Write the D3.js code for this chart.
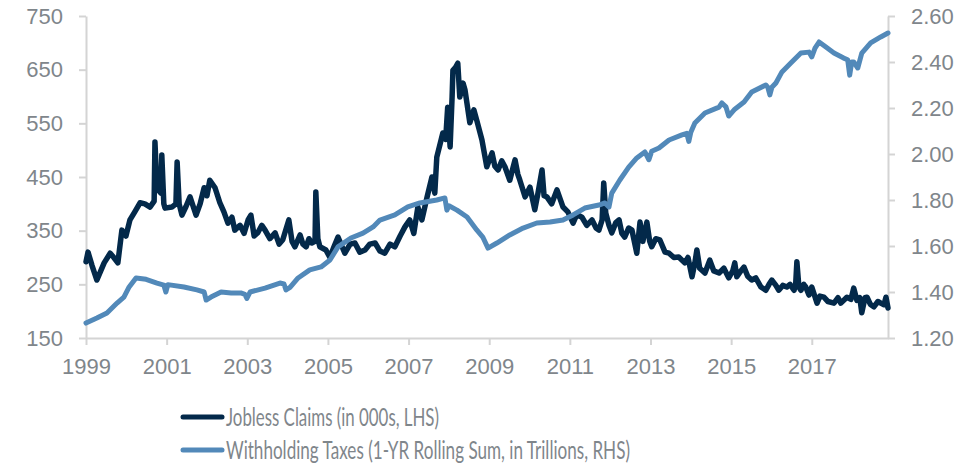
<!DOCTYPE html>
<html>
<head>
<meta charset="utf-8">
<script src="https://cdn.jsdelivr.net/npm/d3@7"></script>
<style>
  body { margin: 0; background: #fff; }
  svg { display: block; font-family: "Source Sans Pro", Lato, "Open Sans", sans-serif; }
  .axis path, .axis line { stroke: #d4d4d4; stroke-width: 2; }
  .axis text { fill: #7f868b; font-size: 22px; }
  .legend text { fill: #7f868b; font-size: 25px; }
</style>
</head>
<body>
<svg id="chart" width="974" height="463"></svg>
<script>
// jobless claims, thousands (decimal year, value)
var claimDates = [1999.00,1999.05,1999.15,1999.27,1999.45,1999.60,1999.69,1999.79,1999.89,1999.99,
  2000.09,2000.21,2000.34,2000.46,2000.59,2000.69,2000.71,2000.76,2000.79,2000.86,2000.88,2000.93,2000.96,
  2001.13,2001.23,2001.26,2001.31,2001.38,2001.48,2001.58,2001.73,2001.83,2001.93,2002.00,2002.07,2002.20,
  2002.32,2002.42,2002.52,2002.62,2002.69,2002.82,2002.92,2003.02,2003.09,2003.17,2003.26,2003.36,2003.44,
  2003.56,2003.69,2003.79,2003.88,2004.03,2004.11,2004.18,2004.31,2004.38,2004.46,2004.53,2004.60,2004.68,
  2004.70,2004.75,2004.80,2004.95,2005.05,2005.15,2005.25,2005.42,2005.55,2005.67,2005.79,2005.92,2006.04,
  2006.17,2006.29,2006.41,2006.54,2006.66,2006.79,2006.91,2007.03,2007.13,2007.23,2007.33,2007.46,2007.58,
  2007.65,2007.70,2007.85,2007.92,2007.97,2008.03,2008.08,2008.10,2008.17,2008.22,2008.27,2008.35,2008.40,
  2008.52,2008.62,2008.69,2008.82,2008.94,2009.07,2009.14,2009.22,2009.31,2009.39,2009.51,2009.64,2009.71,
  2009.76,2009.89,2010.01,2010.13,2010.21,2010.31,2010.36,2010.43,2010.55,2010.68,2010.83,2010.95,2011.08,
  2011.17,2011.30,2011.42,2011.55,2011.65,2011.72,2011.80,2011.84,2011.89,2011.97,2012.04,2012.14,2012.22,
  2012.29,2012.36,2012.46,2012.54,2012.66,2012.74,2012.81,2012.91,2012.98,2013.03,2013.13,2013.23,2013.36,
  2013.46,2013.58,2013.70,2013.85,2013.93,2014.03,2014.10,2014.15,2014.22,2014.35,2014.47,2014.57,2014.70,
  2014.82,2014.94,2015.04,2015.09,2015.14,2015.24,2015.32,2015.41,2015.51,2015.61,2015.74,2015.86,2015.94,
  2016.01,2016.11,2016.18,2016.28,2016.38,2016.46,2016.56,2016.60,2016.63,2016.68,2016.73,2016.80,2016.85,
  2016.93,2017.00,2017.13,2017.20,2017.30,2017.40,2017.55,2017.65,2017.72,2017.87,2017.97,2018.04,2018.12,
  2018.19,2018.24,2018.32,2018.37,2018.45,2018.54,2018.64,2018.71,2018.79,2018.84,2018.89];
var claimValues = [292,310,285,258,290,308,300,290,351,340,
  370,385,402,400,394,405,515,430,426,420,491,400,392,
  394,400,478,400,379,395,413,379,400,430,415,444,430,
  402,385,364,375,351,360,345,370,379,340,346,360,351,
  335,346,325,333,370,330,320,342,325,320,335,327,330,
  422,335,320,314,300,320,338,308,325,327,310,314,325,
  327,312,308,325,320,340,357,370,345,394,370,413,450,
  420,487,532,520,580,506,600,649,655,662,599,625,612,
  551,575,556,519,469,495,470,463,480,469,444,482,455,
  444,413,431,389,420,463,415,413,400,426,394,385,364,
  380,375,360,370,355,351,370,439,383,360,346,365,370,
  345,338,355,351,308,366,330,366,330,320,335,333,310,
  308,300,301,290,300,264,290,314,280,271,295,275,271,
  280,262,275,290,264,275,282,265,258,262,245,239,250,
  258,248,239,248,245,250,239,250,292,245,239,250,245,
  230,245,215,228,226,218,215,225,215,226,222,243,220,
  225,197,225,226,213,208,218,215,212,226,206];

// withholding taxes, 1-yr rolling sum, trillions
var taxDates = [1999.00,1999.27,1999.52,1999.77,1999.94,2000.07,2000.24,2000.49,2000.76,2000.93,2000.98,
  2001.03,2001.43,2001.75,2001.93,2001.98,2002.10,2002.35,2002.60,2002.84,2002.94,2002.99,2003.07,2003.44,
  2003.81,2003.91,2003.96,2004.06,2004.26,2004.55,2004.83,2005.05,2005.25,2005.57,2005.87,2006.12,2006.29,
  2006.66,2006.98,2007.28,2007.70,2007.90,2007.95,2008.00,2008.20,2008.45,2008.69,2008.84,2008.97,2009.19,
  2009.51,2009.84,2010.18,2010.51,2010.83,2011.08,2011.37,2011.72,2011.87,2011.97,2012.04,2012.24,2012.46,
  2012.66,2012.86,2012.96,2013.03,2013.21,2013.46,2013.78,2013.90,2013.95,2014.00,2014.10,2014.35,2014.70,
  2014.77,2014.87,2014.94,2015.09,2015.32,2015.51,2015.86,2015.91,2015.96,2016.01,2016.11,2016.26,2016.48,
  2016.73,2016.93,2017.00,2017.08,2017.18,2017.35,2017.55,2017.79,2017.89,2017.94,2017.99,2018.04,2018.14,
  2018.24,2018.46,2018.71,2018.89];
var taxValues = [1.265,1.287,1.309,1.352,1.378,1.422,1.461,1.455,1.439,1.430,1.400,
  1.432,1.422,1.409,1.400,1.365,1.378,1.400,1.396,1.396,1.390,1.372,1.400,1.417,
  1.439,1.435,1.409,1.420,1.461,1.496,1.509,1.539,1.596,1.635,1.656,1.683,1.713,
  1.735,1.770,1.787,1.800,1.809,1.756,1.775,1.756,1.726,1.670,1.639,1.591,1.613,
  1.648,1.678,1.700,1.704,1.713,1.735,1.765,1.778,1.787,1.770,1.830,1.887,1.943,
  1.983,2.009,1.975,2.012,2.026,2.061,2.083,2.090,2.055,2.095,2.135,2.178,2.204,
  2.222,2.205,2.165,2.195,2.226,2.270,2.300,2.290,2.257,2.290,2.309,2.357,2.396,
  2.439,2.443,2.422,2.460,2.487,2.465,2.439,2.417,2.410,2.343,2.400,2.400,2.374,
  2.439,2.483,2.509,2.526];

var yearTicks = [1999,2001,2003,2005,2007,2009,2011,2013,2015,2017];
var leftTicks = [150,250,350,450,550,650,750];
var rightTicks = [1.2,1.4,1.6,1.8,2.0,2.2,2.4,2.6];
var seriesNames = ["Jobless Claims (in 000s, LHS)", "Withholding Taxes (1-YR Rolling Sum, in Trillions, RHS)"];
var seriesColors = ["#03294a", "#5289b9"];

var margin = {top: 16, right: 86, bottom: 125, left: 86},
    width = 974 - margin.left - margin.right,
    height = 463 - margin.top - margin.bottom;

var svg = d3.select('#chart');
var g = svg.append('g').attr('transform', 'translate(' + margin.left + ',' + margin.top + ')');

var x = d3.scaleLinear().domain([1999, 2018.89]).range([0, width]);
var yL = d3.scaleLinear().domain([150, 750]).range([height, 0]);
var yR = d3.scaleLinear().domain([1.2, 2.6]).range([height, 0]);

var claims = claimDates.map(function(d, i){ return {t: d, v: claimValues[i]}; });
var taxes = taxDates.map(function(d, i){ return {t: d, v: taxValues[i]}; });

// axes
g.append('g').attr('class', 'axis').attr('transform', 'translate(0,' + height + ')')
  .call(d3.axisBottom(x).tickValues(yearTicks).tickFormat(d3.format('d')).tickSize(7).tickSizeOuter(0).tickPadding(13));
g.append('g').attr('class', 'axis')
  .call(d3.axisLeft(yL).tickValues(leftTicks).tickSize(7).tickSizeOuter(0).tickPadding(16));
g.append('g').attr('class', 'axis').attr('transform', 'translate(' + width + ',0)')
  .call(d3.axisRight(yR).tickValues(rightTicks).tickFormat(d3.format('.2f')).tickSize(7).tickSizeOuter(0).tickPadding(16));

var lineL = d3.line().x(function(d){ return x(d.t); }).y(function(d){ return yL(d.v); });
var lineR = d3.line().x(function(d){ return x(d.t); }).y(function(d){ return yR(d.v); });

g.append('path').attr('d', lineL(claims)).attr('fill', 'none')
  .attr('stroke', seriesColors[0]).attr('stroke-width', 5.5).attr('stroke-linejoin', 'round').attr('stroke-linecap', 'round');
g.append('path').attr('d', lineR(taxes)).attr('fill', 'none')
  .attr('stroke', seriesColors[1]).attr('stroke-width', 5).attr('stroke-linejoin', 'round').attr('stroke-linecap', 'round');

// legend
var legendWidths = [213, 404];
var legend = svg.append('g').attr('class', 'legend');
seriesNames.forEach(function(name, i){
  var ly = 417 + i * 33;
  legend.append('line').attr('x1', 183).attr('x2', 222).attr('y1', ly).attr('y2', ly)
    .attr('stroke', seriesColors[i]).attr('stroke-width', 5).attr('stroke-linecap', 'round');
  legend.append('text').attr('x', 226).attr('y', ly + 9)
    .attr('textLength', legendWidths[i]).attr('lengthAdjust', 'spacingAndGlyphs')
    .text(name);
});
</script>
</body>
</html>
